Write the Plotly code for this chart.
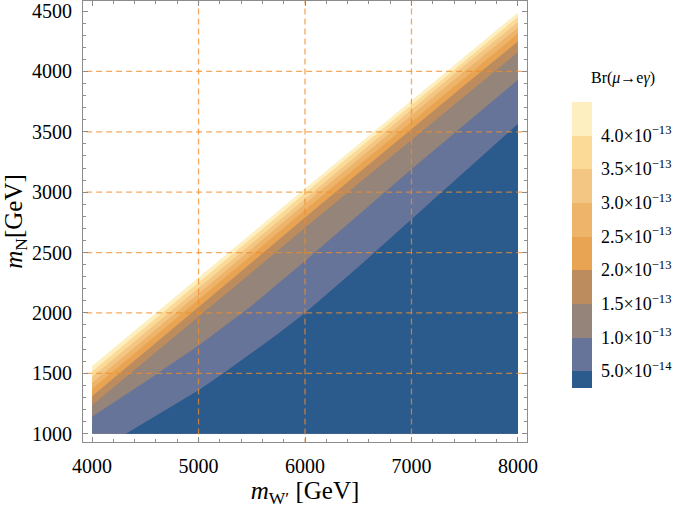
import plotly.graph_objects as go

# scan limits
mw_min, mw_max = 4000, 8000
mn_min = 1000

# mW' samples (GeV) for the boundary curves
mw = [4000, 4500, 5000, 5500, 6000, 6500, 7000, 7500, 8000]

# upper edge of the allowed region and the Br contour lines, mN in GeV
mn_edge = [1560, 1925, 2290, 2660, 3030, 3395, 3760, 4125, 4488]
mn_40 = [1515, 1882, 2250, 2620, 2992, 3358, 3724, 4089, 4452]
mn_35 = [1470, 1838, 2207, 2578, 2950, 3318, 3684, 4050, 4410]
mn_30 = [1420, 1788, 2158, 2530, 2903, 3270, 3637, 4003, 4363]
mn_25 = [1370, 1738, 2108, 2480, 2853, 3220, 3587, 3953, 4313]
mn_20 = [1310, 1677, 2046, 2418, 2790, 3157, 3522, 3888, 4248]
mn_15 = [1235, 1600, 1965, 2335, 2705, 3068, 3432, 3796, 4158]
mn_10 = [1140, 1430, 1730, 2060, 2430, 2810, 3190, 3560, 3930]
mw_05 = [4318, 4500, 4750, 5000, 5250, 5500, 5750, 6000, 6500, 7000, 7500, 8000]
mn_05 = [1000, 1095, 1225, 1360, 1510, 1670, 1830, 2000, 2380, 2775, 3170, 3565]

# band colours, lightest (top) to darkest (bottom)
band_colors = ["#FDEFC0", "#FBDA98", "#F4C684", "#EDB46A", "#E8A452",
               "#BC8C5E", "#94847A", "#667499", "#2B5A8C"]

# colorbar levels, units of 1e-13
cb_bounds = [0.25, 0.5, 1.0, 1.5, 2.0, 2.5, 3.0, 3.5, 4.0, 4.5]
cb_ticks = [0.5, 1.0, 1.5, 2.0, 2.5, 3.0, 3.5, 4.0]
cb_text = ["5.0\u00d710<sup>\u221214</sup>"] + \
          ["%.1f\u00d710<sup>\u221213</sup>" % v for v in cb_ticks[1:]]

x_grid = [5000, 6000, 7000]
y_grid = [1500, 2000, 2500, 3000, 3500, 4000]

boundaries = [
    (mw, mn_edge), (mw, mn_40), (mw, mn_35), (mw, mn_30), (mw, mn_25),
    (mw, mn_20), (mw, mn_15), (mw, mn_10), (mw_05, mn_05),
]

fig = go.Figure()

# stack polygons: each one runs from its contour down to the bottom of the scan
for (bx, by), col in zip(boundaries, band_colors):
    px = list(bx) + [mw_max, bx[0]]
    py = list(by) + [mn_min, mn_min]
    fig.add_trace(go.Scatter(x=px, y=py, mode="lines", fill="toself",
                             fillcolor=col, line=dict(width=0, color=col),
                             hoverinfo="skip", showlegend=False))

# dashed grid on top of the bands
grid_style = dict(color="rgba(242,140,40,0.75)", width=1.3, dash="6px,4px")
for gx in x_grid:
    fig.add_trace(go.Scatter(x=[gx, gx], y=[0, 10000], mode="lines",
                             line=grid_style, hoverinfo="skip", showlegend=False))
for gy in y_grid:
    fig.add_trace(go.Scatter(x=[0, 20000], y=[gy, gy], mode="lines",
                             line=grid_style, hoverinfo="skip", showlegend=False))

# colorbar only
n = len(cb_bounds) - 1
span = cb_bounds[-1] - cb_bounds[0]
cscale = []
for i in range(n):
    lo = (cb_bounds[i] - cb_bounds[0]) / span
    hi = (cb_bounds[i + 1] - cb_bounds[0]) / span
    c = band_colors[n - 1 - i]
    cscale.append([lo, c])
    cscale.append([hi, c])

fig.add_trace(go.Scatter(
    x=[mw_min], y=[mn_min], mode="markers", hoverinfo="skip", showlegend=False,
    marker=dict(size=1, opacity=0, color=[cb_bounds[0]], colorscale=cscale,
                cmin=cb_bounds[0], cmax=cb_bounds[-1], showscale=True,
                colorbar=dict(thickness=20, len=286, lenmode="pixels",
                              x=1.101, xanchor="left", xpad=0,
                              y=0.447, yanchor="middle", ypad=0,
                              outlinewidth=0, ticks="outside", ticklen=6,
                              tickcolor="white",
                              tickvals=cb_ticks, ticktext=cb_text,
                              tickfont=dict(family="Liberation Serif", size=18,
                                            color="black")))))

fig.add_annotation(text="Br(<i>\u03bc</i>\u2192e<i>\u03b3</i>)", xref="paper", yref="paper",
                   x=1.217, y=0.825, xanchor="center", yanchor="middle", showarrow=False,
                   font=dict(family="Liberation Serif", size=16, color="black"))

axis_common = dict(showline=True, linecolor="#8c8c8c", linewidth=1, mirror="allticks",
                   ticks="inside", ticklen=5, tickcolor="#8c8c8c", showgrid=False,
                   zeroline=False, ticklabelstandoff=6, automargin=False,
                   tickfont=dict(family="Liberation Serif", size=20, color="black"))

fig.update_xaxes(range=[3915, 8085], tickvals=[4000, 5000, 6000, 7000, 8000],
                 minor=dict(dtick=200, ticks="inside", ticklen=3, tickcolor="#8c8c8c"),
                 title=dict(text="<i>m</i><sub>W\u2032</sub> [GeV]", standoff=10,
                            font=dict(family="Liberation Serif", size=25, color="black")),
                 **axis_common)
fig.update_yaxes(range=[931, 4583], tickvals=[1000, 1500, 2000, 2500, 3000, 3500, 4000, 4500],
                 minor=dict(dtick=100, ticks="inside", ticklen=3, tickcolor="#8c8c8c"),
                 title=dict(text="<i>m</i><sub>N</sub>[GeV]", standoff=6,
                            font=dict(family="Liberation Serif", size=25, color="black")),
                 **axis_common)

fig.update_layout(width=685, height=508, margin=dict(l=83, r=158, t=1, b=66),
                  plot_bgcolor="white", paper_bgcolor="white")

# the page body has a default 8px margin; drop it so the figure sits at the corner
fig.write_html("out.html", config={"displayModeBar": False},
               post_script="document.body.style.margin='0';")
